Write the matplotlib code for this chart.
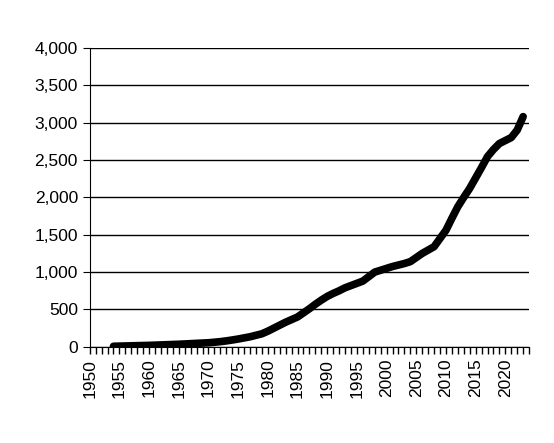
import matplotlib.pyplot as plt
from matplotlib.ticker import MultipleLocator, FuncFormatter

years = list(range(1954, 2024))
values = [8, 10, 12, 14, 16, 18, 20, 23, 26, 29, 32, 35, 39, 43, 47, 51, 55, 62, 70,
          80, 92, 105, 120, 135, 155, 175, 210, 250, 290, 330, 365, 400, 455, 510,
          570, 625, 675, 715, 750, 790, 820, 850, 880, 940, 1000, 1025, 1050, 1075,
          1095, 1115, 1140, 1195, 1250, 1295, 1340, 1450, 1560, 1720, 1875, 2000,
          2120, 2260, 2400, 2545, 2640, 2720, 2760, 2800, 2900, 3080]

fig = plt.figure(figsize=(5.54, 4.43), dpi=100)
ax = fig.add_axes([0.162, 0.217, 0.793, 0.675])
ax.plot(years, values, color='black', linewidth=5.5, solid_capstyle='round',
        solid_joinstyle='round')
ax.set_xlim(1950, 2024)
ax.set_ylim(0, 4000)
ax.yaxis.set_major_locator(MultipleLocator(500))
ax.yaxis.set_major_formatter(FuncFormatter(lambda v, p: f'{int(v):,}'))
ax.xaxis.set_major_locator(MultipleLocator(5))
ax.xaxis.set_minor_locator(MultipleLocator(1))
ax.grid(axis='y', color='black', linewidth=1)
ax.set_axisbelow(True)
for s in ['top', 'right']:
    ax.spines[s].set_visible(False)
ax.tick_params(axis='x', which='both', direction='out', length=5, width=1,
               labelrotation=90, labelsize=12.5)
ax.tick_params(axis='y', labelsize=12.5, length=5)
for lab in ax.get_xticklabels() + ax.get_yticklabels():
    lab.set_family('Liberation Sans')
fig.savefig('out.png')
